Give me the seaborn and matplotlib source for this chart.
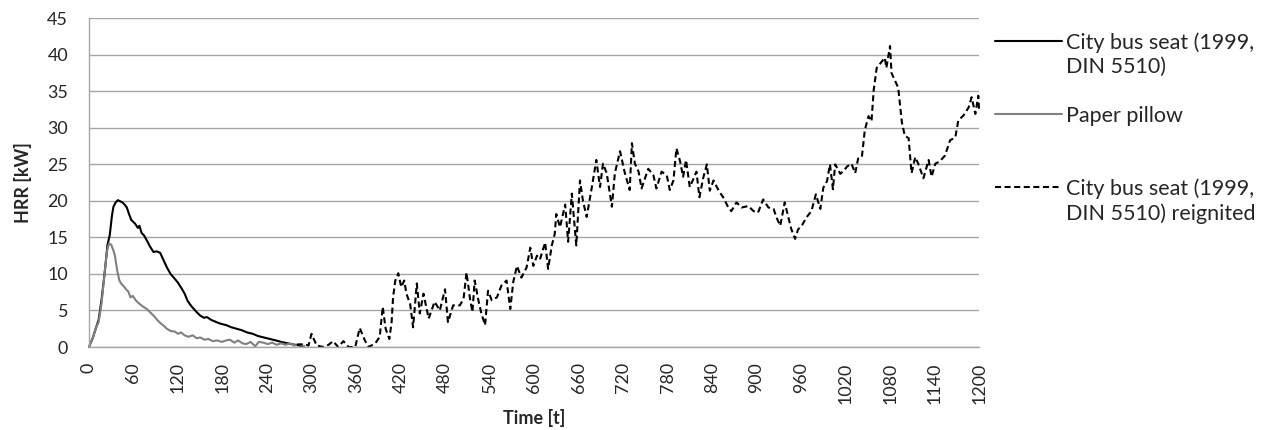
import matplotlib.pyplot as plt
from matplotlib.lines import Line2D
import seaborn as sns

# City bus seat (1999, DIN 5510) - first ignition
bus_time = [0, 5, 10, 13, 17, 21, 25, 28, 31, 33, 36, 39, 41, 45, 48, 51, 54, 57,
            62, 66, 68, 71, 74, 78, 82, 87, 91, 96, 100, 105, 110, 116, 120, 125,
            129, 133, 138, 145, 150, 155, 159, 165, 172, 177, 185, 192, 199, 206,
            213, 221, 228, 236, 244, 252, 259, 266, 275, 285, 290]
bus_hrr = [0, 1.2, 2.8, 3.7, 6.5, 10.0, 14.0, 15.3, 18.0, 19.2, 19.8, 20.1, 20.0,
           19.8, 19.5, 19.1, 18.2, 17.4, 16.9, 16.3, 16.6, 15.6, 15.3, 14.6, 13.8,
           13.0, 13.1, 12.9, 12.0, 10.9, 10.0, 9.3, 8.8, 8.0, 7.3, 6.3, 5.6, 4.8,
           4.3, 4.0, 4.1, 3.7, 3.4, 3.2, 3.0, 2.7, 2.5, 2.3, 2.0, 1.8, 1.5, 1.3,
           1.1, 0.9, 0.7, 0.55, 0.35, 0.2, 0.1]

# Paper pillow
pillow_time = [0, 5, 10, 13, 17, 21, 24, 27, 30, 33, 35, 38, 41, 44, 47, 50, 53,
               56, 59, 63, 67, 72, 78, 83, 88, 92, 96, 101, 105, 110, 116, 120,
               124, 129, 134, 140, 145, 150, 156, 161, 167, 173, 179, 185, 190,
               196, 201, 207, 212, 218, 224, 229, 235, 241, 247, 253, 259, 265,
               271, 277, 283, 290]
pillow_hrr = [0, 1.2, 2.8, 3.4, 6.0, 10.0, 13.0, 14.2, 14.0, 13.2, 12.5, 10.5,
              9.1, 8.6, 8.3, 7.9, 7.6, 6.8, 7.0, 6.4, 6.0, 5.6, 5.2, 4.7, 4.2,
              3.7, 3.3, 2.9, 2.5, 2.2, 2.1, 1.8, 2.0, 1.6, 1.4, 1.6, 1.2, 1.3,
              1.0, 1.1, 0.8, 0.9, 0.7, 0.9, 1.0, 0.6, 0.9, 0.5, 0.4, 0.7, 0.1,
              0.7, 0.6, 0.4, 0.6, 0.3, 0.5, 0.3, 0.5, 0.2, 0.4, 0.1]

# City bus seat (1999, DIN 5510) reignited
reig_time = [280, 290, 296, 300, 307, 316, 323, 329, 336, 343, 350, 359, 365, 372,
             377, 386, 392, 396, 400, 405, 408, 410, 413, 417, 421, 425, 428, 433,
             437, 442, 446, 451, 458, 466, 473, 480, 484, 491, 500, 505, 509, 514,
             517, 520, 525, 529, 534, 538, 543, 550, 556, 563, 568, 572, 577, 583,
             590, 595, 599, 604, 608, 615, 619, 624, 628, 630, 635, 639, 642, 646,
             651, 657, 662, 666, 671, 678, 684, 689, 693, 698, 705, 709, 716, 722,
             729, 732, 736, 741, 745, 754, 761, 765, 772, 779, 783, 788, 792, 797,
             801, 805, 810, 814, 819, 823, 828, 833, 837, 842, 849, 855, 862, 866,
             873, 880, 889, 896, 902, 909, 916, 923, 927, 932, 938, 943, 947, 952,
             956, 961, 967, 974, 980, 986, 990, 995, 999, 1003, 1006, 1013, 1019,
             1022, 1028, 1033, 1037, 1042, 1046, 1051, 1055, 1058, 1062, 1069,
             1073, 1075, 1080, 1082, 1087, 1091, 1096, 1100, 1105, 1109, 1114,
             1118, 1125, 1132, 1136, 1141, 1147, 1154, 1161, 1168, 1172, 1179,
             1186, 1190, 1195, 1199, 1200]
reig_hrr = [0.3, 0.4, 0.2, 1.8, 0.2, 0.0, 0.3, 0.8, 0.0, 0.8, 0.0, 0.0, 2.6, 0.9,
            0.0, 0.5, 1.4, 5.5, 2.5, 1.1, 3.4, 6.8, 9.1, 10.1, 8.2, 9.1, 7.3, 5.9,
            2.7, 8.7, 4.6, 7.3, 3.9, 6.2, 5.0, 7.9, 3.4, 5.7, 5.7, 6.6, 10.2, 6.4,
            4.8, 9.1, 6.4, 4.6, 3.0, 7.7, 6.4, 6.8, 8.4, 9.1, 5.2, 8.9, 11.1, 9.5,
            10.9, 13.6, 11.1, 12.5, 12.0, 14.3, 10.7, 13.9, 15.5, 18.2, 16.4, 18.2,
            19.5, 14.4, 21.0, 13.9, 22.8, 20.0, 17.8, 21.9, 25.6, 21.9, 25.1, 23.8,
            19.2, 23.8, 26.8, 24.0, 21.5, 27.9, 25.1, 24.0, 21.7, 24.4, 23.5, 21.7,
            24.0, 23.5, 21.5, 22.8, 27.2, 25.4, 23.3, 25.6, 21.9, 22.8, 24.0, 20.5,
            23.1, 25.0, 21.4, 22.8, 21.4, 20.5, 19.1, 18.6, 19.8, 19.1, 19.3, 18.6,
            18.4, 20.2, 19.1, 18.9, 17.7, 16.6, 19.8, 17.7, 16.1, 14.8, 16.1, 16.6,
            17.7, 18.6, 20.9, 18.9, 21.8, 22.7, 25.0, 21.6, 25.0, 23.7, 24.3, 24.7,
            25.1, 23.8, 25.8, 26.0, 29.7, 31.6, 30.9, 35.2, 38.2, 39.1, 39.6, 38.2,
            41.2, 37.5, 36.4, 35.5, 30.7, 28.9, 28.6, 23.8, 26.0, 25.1, 23.1, 25.6,
            23.3, 25.1, 25.4, 26.2, 28.3, 28.7, 31.0, 31.7, 32.8, 34.2, 31.9, 34.4,
            32.5]

x_ticks = list(range(0, 1201, 60))
y_ticks = list(range(0, 46, 5))

sns.set_theme(style='white')
plt.rcParams['font.family'] = ['Lato', 'DejaVu Sans']
fs = 12.9          # tick / axis label size
fs_leg = 15.5      # legend text size
grid_col = '#a6a6a6'
dash = (0, (2.9, 1.7))

fig, ax = plt.subplots(figsize=(12.71, 4.30), dpi=100)
fig.subplots_adjust(left=0.07, right=0.7703, top=0.9575, bottom=0.193)

sns.lineplot(x=bus_time, y=bus_hrr, color='black', lw=1.5, ax=ax, clip_on=False)
sns.lineplot(x=pillow_time, y=pillow_hrr, color='#808080', lw=1.5, ax=ax, clip_on=False)
sns.lineplot(x=reig_time, y=reig_hrr, color='black', lw=1.5, linestyle=dash, ax=ax,
             clip_on=False)

ax.set_xlim(0, 1200)
ax.set_ylim(0, 45)
ax.set_xticks(x_ticks)
ax.set_xticklabels([str(t) for t in x_ticks], rotation=90, fontsize=fs)
ax.set_yticks(y_ticks)
ax.set_yticklabels([str(v) for v in y_ticks], fontsize=fs)
ax.set_axisbelow(True)
ax.yaxis.grid(True, color=grid_col, lw=1.0)
ax.xaxis.grid(False)
ax.tick_params(axis='x', length=0, pad=11)
ax.tick_params(axis='y', length=5, width=1.0, color=grid_col, direction='out', pad=10)
for side in ['top', 'right']:
    ax.spines[side].set_visible(False)
for side in ['left', 'bottom']:
    ax.spines[side].set_color(grid_col)
    ax.spines[side].set_linewidth(1.0)

ax.set_xlabel('Time [t]', fontsize=fs, fontweight='bold', labelpad=4)
ax.set_ylabel('HRR [kW]', fontsize=fs, fontweight='bold', labelpad=11)

# legend: handle sits on the first line of each wrapped label
blank = Line2D([], [], linestyle='none')
handles = [Line2D([], [], color='black', lw=1.5), blank, blank,
           Line2D([], [], color='#808080', lw=1.5), blank, blank,
           Line2D([], [], color='black', lw=1.5, linestyle=dash), blank]
labels = ['City bus seat (1999,', 'DIN 5510)', ' ', 'Paper pillow', ' ', ' ',
          'City bus seat (1999,', 'DIN 5510) reignited']
fig.legend(handles, labels, loc='upper left', bbox_to_anchor=(995 / 1271, 1 - 32 / 430),
           frameon=False, borderpad=0, borderaxespad=0, handlelength=3.12,
           handletextpad=0.19, labelspacing=0.2, fontsize=fs_leg)

fig.savefig('out.png', dpi=100)
